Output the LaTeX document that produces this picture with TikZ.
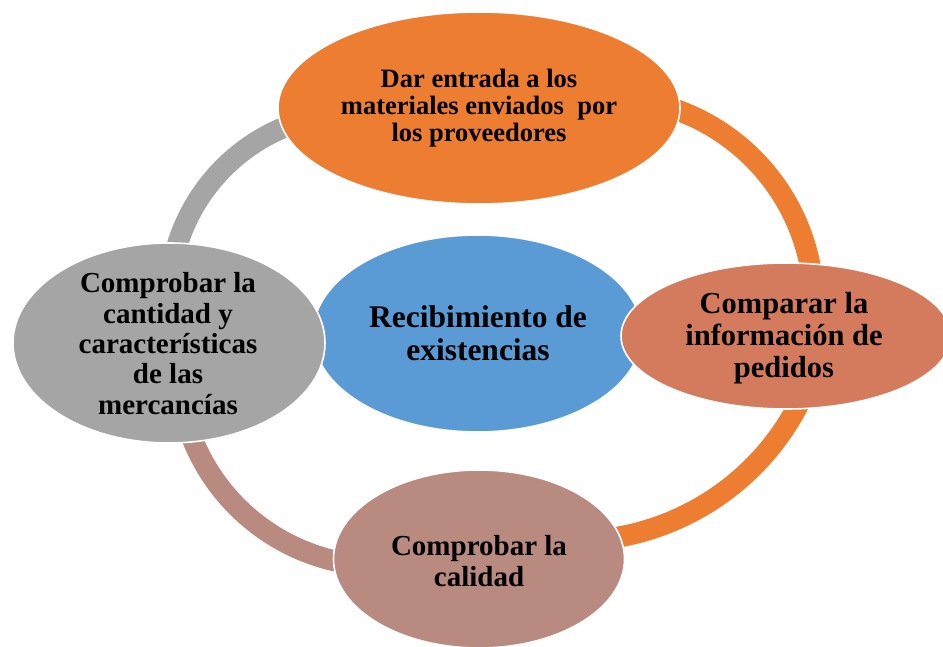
\documentclass[tikz,border=0pt]{standalone}
\usepackage{fontspec}
\setmainfont{Liberation Serif}
\usetikzlibrary{shapes.geometric}
\definecolor{cOrange}{HTML}{ED7D31}
\definecolor{cBlue}{HTML}{5B9BD5}
\definecolor{cGray}{HTML}{A5A5A5}
\definecolor{cTerra}{HTML}{D37B5C}
\definecolor{cRose}{HTML}{B98A80}
\begin{document}
\begin{tikzpicture}[x=1pt,y=-1pt,
  ring/.style={line width=21pt},
  blob/.style={ellipse, draw=white, line width=1.6pt, inner sep=0pt},
  txt/.style={align=center, inner sep=0pt, text=black}]
\useasboundingbox (0,0) rectangle (943,647);
\fill[white] (0,0) rectangle (943,647);
% ring arcs (drawn beneath the ellipses)
\draw[ring, cGray]   plot[domain=192:250, samples=60] ({356+187*cos(\x)},{300+187*sin(\x)});
\draw[ring, cOrange] plot[domain=288:352, samples=60] ({606+208*cos(\x)},{305.5+208*sin(\x)});
\draw[ring, cOrange] plot[domain=26:83, samples=60]   ({574+253*cos(\x)},{288+253*sin(\x)});
\draw[ring, cRose]   plot[domain=100:160, samples=60] ({380+202*cos(\x)},{364+202*sin(\x)});
% central ellipse
\node[blob, fill=cBlue, minimum width=329pt, minimum height=197pt] (center) at (477.5,333.5) {};
% outer ellipses
\node[blob, fill=cOrange, minimum width=402pt, minimum height=192pt] (top) at (479,108) {};
\node[blob, fill=cTerra, minimum width=330pt, minimum height=146pt] (right) at (786,336) {};
\node[blob, fill=cRose, minimum width=291pt, minimum height=178pt] (bottom) at (479,559) {};
\node[blob, fill=cGray, minimum width=312pt, minimum height=200pt] (left) at (169,343) {};
% texts
\node[txt, font=\bfseries\fontsize{26.5}{27}\selectfont] (topt) at (479,108)
  {Dar entrada a los\\materiales enviados\ \ por\\los proveedores};
\node[txt, font=\bfseries\fontsize{31.5}{33}\selectfont] (centert) at (478,333.5)
  {Recibimiento de\\existencias};
\node[txt, font=\bfseries\fontsize{30.5}{32}\selectfont] (rightt) at (784,338.5)
  {Comparar la\\información de\\pedidos};
\node[txt, font=\bfseries\fontsize{29}{31}\selectfont] (bottomt) at (479,561)
  {Comprobar la\\calidad};
\node[txt, font=\bfseries\fontsize{29}{30.3}\selectfont] (leftt) at (168,343.5)
  {Comprobar la\\cantidad y\\características\\de las\\mercancías};
\end{tikzpicture}
\end{document}
